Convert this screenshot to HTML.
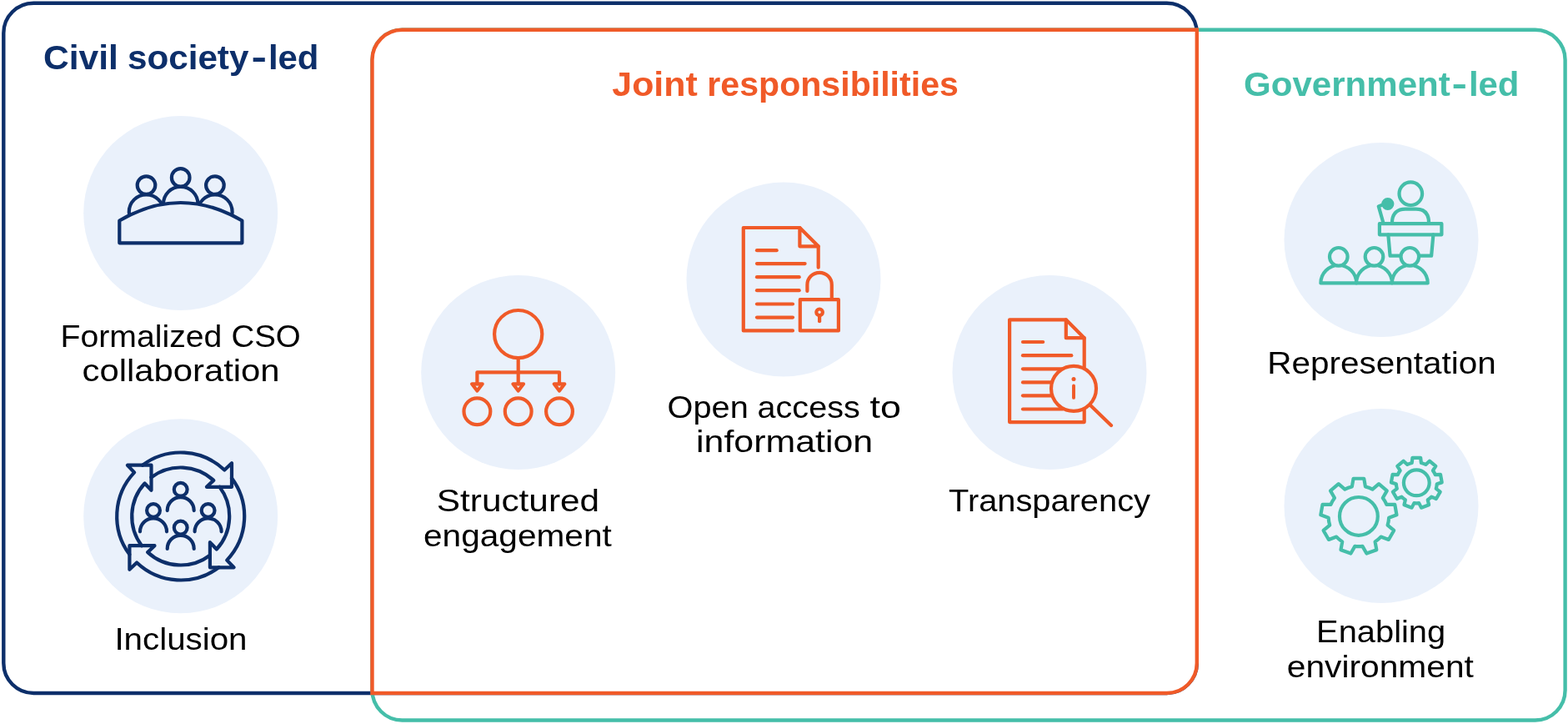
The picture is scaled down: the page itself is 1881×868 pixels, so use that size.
<!DOCTYPE html>
<html lang="en"><head><meta charset="utf-8"><title>Responsibilities diagram</title>
<style>html,body{margin:0;padding:0;background:#fff;overflow:hidden}svg{display:block;will-change:transform}text{font-family:"Liberation Sans",sans-serif}.t{font-weight:bold;font-size:41.5px}.l{font-size:36.3px;fill:#000}.n{stroke:#0D2F6A}.o{stroke:#F05A28}.g{stroke:#45BEA9}.i{fill:none;stroke-width:4.2;stroke-linecap:round;stroke-linejoin:round}</style></head><body>
<svg width="1881" height="868" viewBox="0 0 1881 868" role="img" aria-label="Civil society-led, joint and government-led responsibilities">
<rect width="1881" height="868" fill="#fff"/>
<rect x="4.3" y="3.7" width="1431.5" height="827.3" rx="36" fill="none" stroke="#0D2F6A" stroke-width="4.4"/>
<rect x="446.5" y="35.8" width="1431.1" height="827.7" rx="36" fill="none" stroke="#45BEA9" stroke-width="4.4"/>
<path d="M482.5 35.8 H1435.8 V795 A36 36 0 0 1 1399.8 831 H446.5 V71.8 A36 36 0 0 1 482.5 35.8 Z" fill="#fff" stroke="#F05A28" stroke-width="4.4" stroke-linejoin="miter"/>
<circle cx="216.7" cy="255.5" r="116.5" fill="#EAF1FB"/>
<circle cx="216.7" cy="618.8" r="116.5" fill="#EAF1FB"/>
<circle cx="621.7" cy="446.5" r="116.5" fill="#EAF1FB"/>
<circle cx="940" cy="335" r="116.5" fill="#EAF1FB"/>
<circle cx="1259" cy="446.5" r="116.5" fill="#EAF1FB"/>
<circle cx="1657" cy="287.5" r="116.5" fill="#EAF1FB"/>
<circle cx="1657" cy="606.5" r="116.5" fill="#EAF1FB"/>
<text class="t" y="83.3" fill="#0D2F6A" xml:space="preserve" aria-label="Civil society-led"><tspan x="52" textLength="89.95" lengthAdjust="spacingAndGlyphs">Civil</tspan> <tspan x="152.95" textLength="145.48" lengthAdjust="spacingAndGlyphs">society</tspan><tspan x="301.4" textLength="18.52" lengthAdjust="spacingAndGlyphs" dy="-1">-</tspan><tspan x="321.9" textLength="60.56" lengthAdjust="spacingAndGlyphs" dy="1">led</tspan></text>
<text class="t" y="115" fill="#F05A28" xml:space="preserve" aria-label="Joint responsibilities"><tspan x="734.3" textLength="102.47" lengthAdjust="spacingAndGlyphs">Joint</tspan> <tspan x="848.3" textLength="301.58" lengthAdjust="spacingAndGlyphs">responsibilities</tspan></text>
<text class="t" y="115.1" fill="#45BEA9" xml:space="preserve" aria-label="Government-led"><tspan x="1492" textLength="247.73" lengthAdjust="spacingAndGlyphs">Government</tspan><tspan x="1741.4" textLength="18.51" lengthAdjust="spacingAndGlyphs" dy="-1">-</tspan><tspan x="1761.9" textLength="60.57" lengthAdjust="spacingAndGlyphs" dy="1">led</tspan></text>
<text class="l" y="416" xml:space="preserve" aria-label="Formalized CSO"><tspan x="72.59" textLength="193.75" lengthAdjust="spacingAndGlyphs">Formalized</tspan> <tspan x="277.4" textLength="83.38" lengthAdjust="spacingAndGlyphs">CSO</tspan></text>
<text class="l" y="456.5" xml:space="preserve" aria-label="collaboration"><tspan x="98.55" textLength="237.09" lengthAdjust="spacingAndGlyphs">collaboration</tspan></text>
<text class="l" y="778.9" xml:space="preserve" aria-label="Inclusion"><tspan x="137.4" textLength="159.15" lengthAdjust="spacingAndGlyphs">Inclusion</tspan></text>
<text class="l" y="612.7" xml:space="preserve" aria-label="Structured"><tspan x="523.85" textLength="195.2" lengthAdjust="spacingAndGlyphs">Structured</tspan></text>
<text class="l" y="654.8" xml:space="preserve" aria-label="engagement"><tspan x="508" textLength="225.81" lengthAdjust="spacingAndGlyphs">engagement</tspan></text>
<text class="l" y="501" xml:space="preserve" aria-label="Open access to"><tspan x="800.6" textLength="97.14" lengthAdjust="spacingAndGlyphs">Open</tspan> <tspan x="908.55" textLength="123.17" lengthAdjust="spacingAndGlyphs">access</tspan> <tspan x="1043.6" textLength="37.32" lengthAdjust="spacingAndGlyphs">to</tspan></text>
<text class="l" y="541.8" xml:space="preserve" aria-label="information"><tspan x="835.1" textLength="211.98" lengthAdjust="spacingAndGlyphs">information</tspan></text>
<text class="l" y="612.9" xml:space="preserve" aria-label="Transparency"><tspan x="1138.1" textLength="241.86" lengthAdjust="spacingAndGlyphs">Transparency</tspan></text>
<text class="l" y="448.1" xml:space="preserve" aria-label="Representation"><tspan x="1520.3" textLength="274.37" lengthAdjust="spacingAndGlyphs">Representation</tspan></text>
<text class="l" y="769.9" xml:space="preserve" aria-label="Enabling"><tspan x="1579.1" textLength="155.07" lengthAdjust="spacingAndGlyphs">Enabling</tspan></text>
<text class="l" y="811.8" xml:space="preserve" aria-label="environment"><tspan x="1543.8" textLength="224.07" lengthAdjust="spacingAndGlyphs">environment</tspan></text>
<g class="i n">
<circle cx="175.5" cy="254" r="20.7"/>
<circle cx="257.9" cy="254" r="20.7"/>
<circle cx="216.7" cy="244.5" r="20.7" fill="#EAF1FB"/>
<path d="M143.3 291.3 V264.5 Q180 243 216.7 243 Q253.4 243 290.4 264.5 V291.3 Z" fill="#EAF1FB"/>
<circle cx="175.5" cy="222.1" r="10.8" fill="#EAF1FB"/>
<circle cx="257.9" cy="222.1" r="10.8" fill="#EAF1FB"/>
<circle cx="216.7" cy="212.9" r="10.8" fill="#EAF1FB"/>
</g>
<g class="i n" transform="translate(216.7 619)">
<path transform="rotate(0)" d="M-45.77 -61.3 A76.5 76.5 0 0 1 52.61 -55.54 L61.3 -63.8 L61.3 -35.2 L31.2 -35.2 L39.53 -43.12 A58.5 58.5 0 0 0 -35.2 -46.72"/>
<path transform="rotate(90)" d="M-45.77 -61.3 A76.5 76.5 0 0 1 52.61 -55.54 L61.3 -63.8 L61.3 -35.2 L31.2 -35.2 L39.53 -43.12 A58.5 58.5 0 0 0 -35.2 -46.72"/>
<path transform="rotate(180)" d="M-45.77 -61.3 A76.5 76.5 0 0 1 52.61 -55.54 L61.3 -63.8 L61.3 -35.2 L31.2 -35.2 L39.53 -43.12 A58.5 58.5 0 0 0 -35.2 -46.72"/>
<path transform="rotate(270)" d="M-45.77 -61.3 A76.5 76.5 0 0 1 52.61 -55.54 L61.3 -63.8 L61.3 -35.2 L31.2 -35.2 L39.53 -43.12 A58.5 58.5 0 0 0 -35.2 -46.72"/>
<circle cx="0" cy="-32.2" r="7.9"/>
<path d="M-16 -6.9 a16 16 0 0 1 32 0"/>
<circle cx="-32.7" cy="-7" r="7.9"/>
<path d="M-48.7 18.3 a16 16 0 0 1 32 0"/>
<circle cx="32.9" cy="-7" r="7.9"/>
<path d="M16.9 18.3 a16 16 0 0 1 32 0"/>
<circle cx="0" cy="13.6" r="7.9"/>
<path d="M-16 38.9 a16 16 0 0 1 32 0"/>
</g>
<g class="i o" transform="translate(0 0.5)">
<circle cx="621.7" cy="400.1" r="28.6"/>
<path d="M621.7 428.7 V459.8 M572.4 459.8 V445.8 H671 V459.8"/>
<path d="M566.1 459.8 h12.6 l-6.3 8.3 Z"/>
<circle cx="572.4" cy="492.8" r="15.9"/>
<path d="M615.4 459.8 h12.6 l-6.3 8.3 Z"/>
<circle cx="621.7" cy="492.8" r="15.9"/>
<path d="M664.7 459.8 h12.6 l-6.3 8.3 Z"/>
<circle cx="671" cy="492.8" r="15.9"/>
</g>
<g class="i o">
<path d="M959.4 273 L981.7 295.3 V295.3 H959.4 Z"/>
<path d="M959.4 273 H891.8 V396.4 H951 M981.7 295.3 V320.7"/>
<path d="M908 300.2 H931.7"/>
<path d="M908 316.1 H965.6"/>
<path d="M908 332.2 H958.7"/>
<path d="M908 348.2 H958.7"/>
<path d="M908 364.5 H951"/>
<path d="M908 380.6 H951"/>
<rect x="959.8" y="359.2" width="46.1" height="37.2"/>
<path d="M968.4 349 V341.5 a14.7 14.7 0 0 1 29.4 0 V359"/>
<circle cx="983.1" cy="374.3" r="3.8"/>
<path d="M983.1 378 V385.2"/>
</g>
<g class="i o">
<path d="M1278.8 383.3 L1300.7 405.2 V405.2 H1278.8 Z"/>
<path d="M1278.8 383.3 H1211.1 V506.1 H1300.7 V405.2"/>
<path d="M1227 410 H1251.2"/>
<path d="M1227 426.2 H1285.3"/>
<path d="M1227 442.3 H1275"/>
<path d="M1227 458.4 H1275"/>
<path d="M1227 474.3 H1275"/>
<path d="M1227 490.5 H1275"/>
<circle cx="1288" cy="465.8" r="27" fill="#EAF1FB"/>
<path d="M1307.6 485.4 L1333 510"/>
<path d="M1288 462.5 V476.9" stroke-width="3.9"/>
<circle cx="1288" cy="454.5" r="2.5" fill="#F05A28" stroke="none"/>
</g>
<g class="i g">
<path d="M1665.3 281.3 L1667.6 306.7 H1717.1 L1719.4 281.3"/>
<path d="M1669.9 267.5 C1669.9 255 1677 250.7 1686 250.7 H1698.7 C1708 250.7 1714.1 255 1714.1 267.5"/>
<circle cx="1692.3" cy="232.2" r="13.8"/>
<rect x="1654.9" y="268.2" width="74.5" height="13.1"/>
<path d="M1659.5 267.5 L1653.8 247.4 L1660 245"/>
<circle cx="1664.8" cy="244.5" r="5.5" fill="#45BEA9"/>
<path d="M1584.4 339.4 a21.4 21.4 0 0 1 42.8 0 Z" fill="#EAF1FB"/>
<path d="M1627.1 339.4 a21.4 21.4 0 0 1 42.8 0 Z" fill="#EAF1FB"/>
<path d="M1669.9 339.4 a21.4 21.4 0 0 1 42.8 0 Z" fill="#EAF1FB"/>
<circle cx="1605.8" cy="307.8" r="10.8" fill="#EAF1FB"/>
<circle cx="1648.5" cy="307.8" r="10.8" fill="#EAF1FB"/>
<circle cx="1691.3" cy="307.8" r="10.8" fill="#EAF1FB"/>
</g>
<g class="i g">
<path d="M1621.86 583.5 L1623.55 573.74 L1636.25 573.74 L1637.94 583.5 A36.3 36.3 0 0 1 1646.49 586.61 L1654.06 580.23 L1663.79 588.39 L1658.81 596.95 A36.3 36.3 0 0 1 1663.36 604.83 L1673.27 604.81 L1675.47 617.31 L1666.16 620.67 A36.3 36.3 0 0 1 1664.58 629.63 L1672.18 635.98 L1665.83 646.97 L1656.53 643.56 A36.3 36.3 0 0 1 1649.56 649.41 L1651.31 659.16 L1639.38 663.5 L1634.45 654.91 A36.3 36.3 0 0 1 1625.35 654.91 L1620.42 663.5 L1608.49 659.16 L1610.24 649.41 A36.3 36.3 0 0 1 1603.27 643.56 L1593.97 646.97 L1587.62 635.98 L1595.22 629.63 A36.3 36.3 0 0 1 1593.64 620.67 L1584.33 617.31 L1586.53 604.81 L1596.44 604.83 A36.3 36.3 0 0 1 1600.99 596.95 L1596.01 588.39 L1605.74 580.23 L1613.31 586.61 A36.3 36.3 0 0 1 1621.86 583.5 Z"/>
<circle cx="1629.9" cy="618.9" r="22.9"/>
<path d="M1693.71 554.95 L1694.44 548.79 L1704.16 548.79 L1704.89 554.95 A24.5 24.5 0 0 1 1710.35 556.93 L1714.87 552.69 L1722.31 558.94 L1718.92 564.12 A24.5 24.5 0 0 1 1721.82 569.15 L1728.01 568.8 L1729.7 578.38 L1723.76 580.17 A24.5 24.5 0 0 1 1722.75 585.88 L1727.72 589.6 L1722.86 598.01 L1717.16 595.57 A24.5 24.5 0 0 1 1712.72 599.3 L1714.13 605.34 L1705 608.66 L1702.2 603.13 A24.5 24.5 0 0 1 1696.4 603.13 L1693.6 608.66 L1684.47 605.34 L1685.88 599.3 A24.5 24.5 0 0 1 1681.44 595.57 L1675.74 598.01 L1670.88 589.6 L1675.85 585.88 A24.5 24.5 0 0 1 1674.84 580.17 L1668.9 578.38 L1670.59 568.8 L1676.78 569.15 A24.5 24.5 0 0 1 1679.68 564.12 L1676.29 558.94 L1683.73 552.69 L1688.25 556.93 A24.5 24.5 0 0 1 1693.71 554.95 Z"/>
<circle cx="1699.3" cy="578.8" r="15.4"/>
</g>
</svg></body></html>
